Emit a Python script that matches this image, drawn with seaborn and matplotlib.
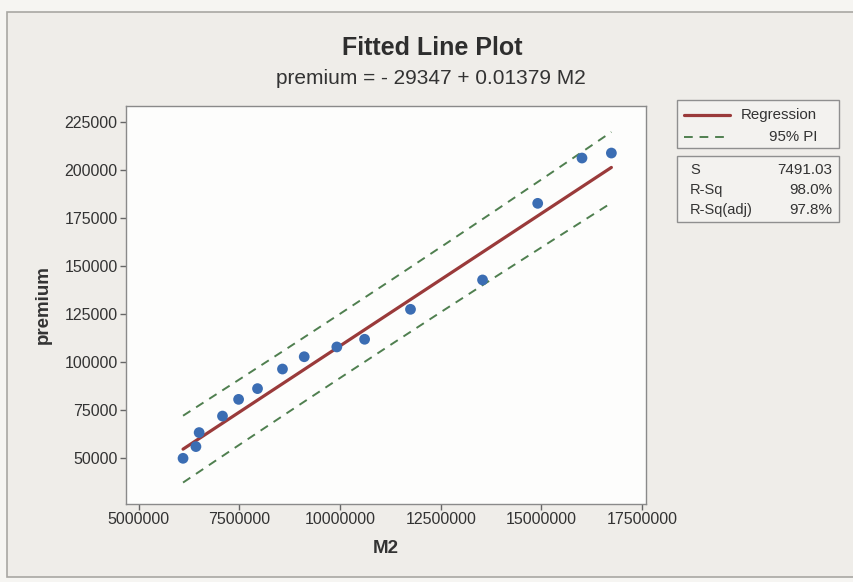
import numpy as np
import pandas as pd
import matplotlib
matplotlib.use("Agg")
import matplotlib.pyplot as plt
import seaborn as sns
from matplotlib.patches import Rectangle

# Observations
m2 = [6100000, 6420000, 6500000, 7080000, 7480000, 7950000, 8570000, 9110000,
      9920000, 10610000, 11750000, 13540000, 14910000, 16010000, 16740000]
premium = [50000, 56100, 63400, 72000, 80700, 86300, 96500, 102900,
           108000, 112000, 127600, 142900, 182800, 206400, 209000]

# Fitted model summary
intercept = -29347
slope = 0.01379
s_value = 7491.03
r_sq = 98.0
r_sq_adj = 97.8
t_crit = 2.160  # t(0.975, 13)

x_ticks = [5000000, 7500000, 10000000, 12500000, 15000000, 17500000]
y_ticks = [50000, 75000, 100000, 125000, 150000, 175000, 200000, 225000]

sns.set_theme(style="white")
plt.rcParams["font.family"] = ["Liberation Sans", "DejaVu Sans"]

df = pd.DataFrame({"M2": m2, "premium": premium})

# Fitted line and 95% prediction interval
x = np.asarray(m2, dtype=float)
xs = np.linspace(x.min(), x.max(), 200)
yhat = intercept + slope * xs
n = len(x)
sxx = np.sum((x - x.mean()) ** 2)
half = t_crit * s_value * np.sqrt(1 + 1 / n + (xs - x.mean()) ** 2 / sxx)
fit = pd.DataFrame({"M2": xs, "fit": yhat, "lo": yhat - half, "hi": yhat + half})

W, H = 854, 582
fig = plt.figure(figsize=(W / 100, H / 100), dpi=100)
fig.patch.set_facecolor("#f6f5f2")
fig.add_artist(Rectangle((7 / W, 1 - 577 / H), 1.0, (577 - 12) / H,
                         transform=fig.transFigure, facecolor="#efede9",
                         edgecolor="#a9a7a3", linewidth=1.2, zorder=-10))

ax = fig.add_axes([126 / W, 1 - 504 / H, (646 - 126) / W, (504 - 106) / H])
ax.set_facecolor("#fdfdfc")

pi_style = dict(color="#4f7f4f", lw=1.4, linestyle=(0, (4.5, 3.5)), zorder=2)
sns.lineplot(data=fit, x="M2", y="hi", ax=ax, **pi_style)
sns.lineplot(data=fit, x="M2", y="lo", ax=ax, **pi_style)
sns.lineplot(data=fit, x="M2", y="fit", ax=ax, color="#9a3a3a", lw=2.3, zorder=3)
sns.scatterplot(data=df, x="M2", y="premium", ax=ax, color="#3b6db3", s=60,
                edgecolor="none", zorder=4)

ax.set_xlim(4683000, 17600000)
ax.set_ylim(26200, 233500)
ax.set_xticks(x_ticks)
ax.set_xticklabels([str(v) for v in x_ticks])
ax.set_yticks(y_ticks)
ax.set_yticklabels([str(v) for v in y_ticks])
ax.tick_params(axis="both", which="major", direction="out", length=4, width=1,
               color="#666666", labelsize=11.5, labelcolor="#333333", pad=2,
               bottom=True, left=True)
for sp in ax.spines.values():
    sp.set_color("#8a8a8a")
    sp.set_linewidth(1.0)
ax.set_xlabel("M2", fontsize=13.5, fontweight="bold", color="#333333", labelpad=9)
ax.set_ylabel("premium", fontsize=13.5, fontweight="bold", color="#333333", labelpad=9)

fig.text(432 / W, 1 - 48 / H, "Fitted Line Plot", ha="center", va="center",
         fontsize=18, fontweight="bold", color="#2e2e2e")
fig.text(431 / W, 1 - 78 / H, "premium = - 29347 + 0.01379 M2", ha="center",
         va="center", fontsize=15, color="#333333")

# Legend box
fig.add_artist(Rectangle((677 / W, 1 - 148 / H), (839 - 677) / W, (148 - 100) / H,
                         transform=fig.transFigure, facecolor="#f3f2ef",
                         edgecolor="#8f8f8f", linewidth=1.0))
fig.add_artist(plt.Line2D([684 / W, 730 / W], [1 - 115 / H] * 2,
                          transform=fig.transFigure, color="#9a3a3a", lw=2.3))
fig.add_artist(plt.Line2D([684 / W, 730 / W], [1 - 137 / H] * 2,
                          transform=fig.transFigure, color="#4f7f4f", lw=1.4,
                          linestyle=(0, (4.5, 3.5))))
fig.text(817 / W, 1 - 115 / H, "Regression", ha="right", va="center",
         fontsize=10.8, color="#333333")
fig.text(817 / W, 1 - 137 / H, "95% PI", ha="right", va="center",
         fontsize=10.8, color="#333333")

# Summary statistics box
fig.add_artist(Rectangle((677 / W, 1 - 222 / H), (839 - 677) / W, (222 - 156) / H,
                         transform=fig.transFigure, facecolor="#f3f2ef",
                         edgecolor="#8f8f8f", linewidth=1.0))
stats = [("S", f"{s_value:.2f}"), ("R-Sq", f"{r_sq:.1f}%"),
         ("R-Sq(adj)", f"{r_sq_adj:.1f}%")]
for i, (k, v) in enumerate(stats):
    yy = 1 - (170 + 20 * i) / H
    fig.text(690 / W, yy, k, ha="left", va="center", fontsize=10.5, color="#333333")
    fig.text(832 / W, yy, v, ha="right", va="center", fontsize=11, color="#333333")

fig.savefig("out.png", dpi=100, facecolor=fig.get_facecolor())
